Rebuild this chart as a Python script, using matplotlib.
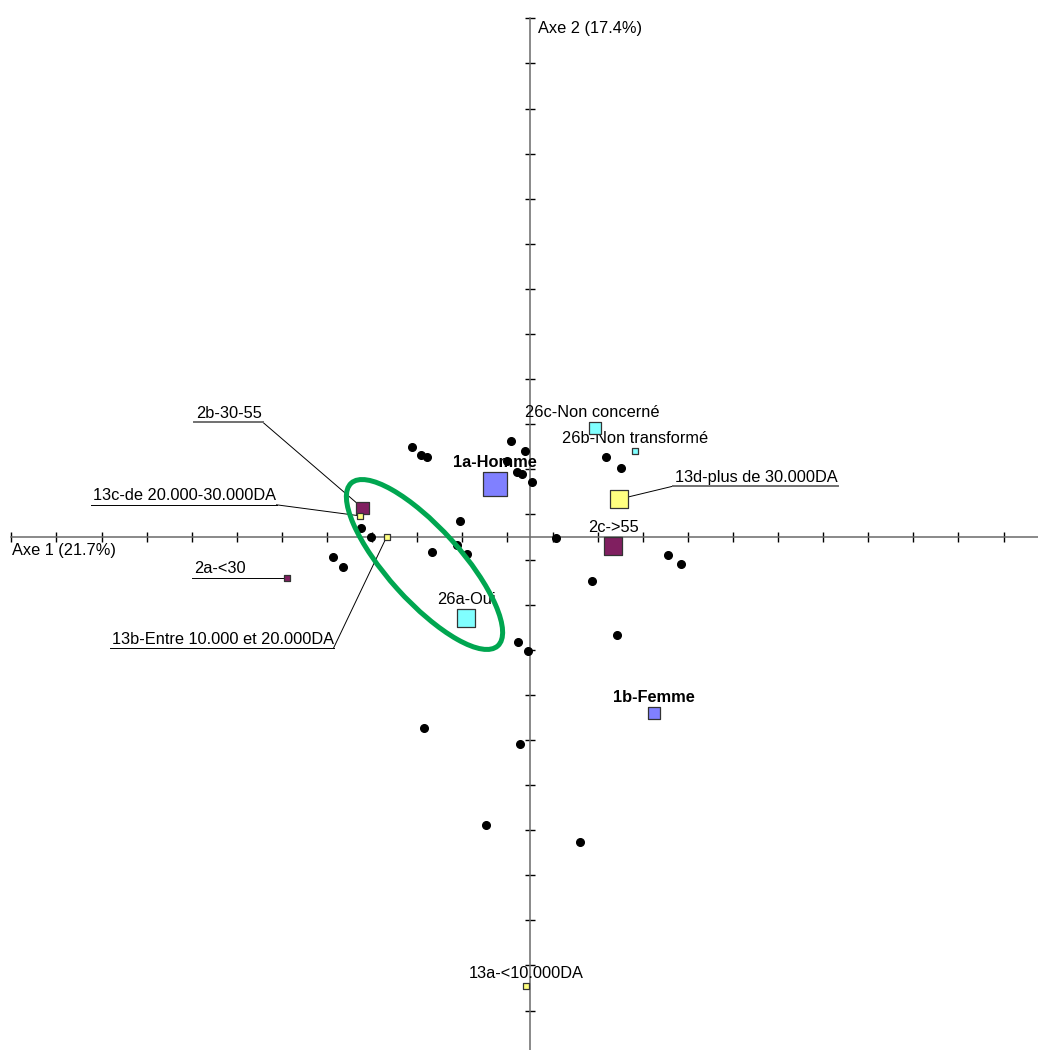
import numpy as np
import matplotlib.pyplot as plt
from matplotlib.patches import Ellipse

plt.rcParams['font.family'] = ['Liberation Sans', 'DejaVu Sans']

# one tick of the map = 45.1 px in the picture
PX = 1 / 45.1

# individuals (black dots), axis 1 / axis 2 coordinates
dots_x = [-2.62, -2.42, -2.28, -0.42, -0.11, -0.51, -0.29, -0.18, 0.04, -1.55,
          -3.75, -3.53, 0.58, -4.37, -4.15, -2.17, -1.62, -1.40, -0.27, -0.04,
          1.69, 2.02, 3.06, 3.35, 1.37, 1.93, -2.35, -0.22, -0.98, 1.11]
dots_y = [2.00, 1.82, 1.77, 2.13, 1.91, 1.69, 1.44, 1.40, 1.22, 0.35,
          0.20, 0.00, -0.02, -0.44, -0.67, -0.33, -0.18, -0.38, -2.33, -2.53,
          1.77, 1.53, -0.40, -0.60, -0.98, -2.17, -4.24, -4.59, -6.39, -6.76]

# active categories
cat_labels = ['1a-Homme', '1b-Femme',
              '2a-<30', '2b-30-55', '2c->55',
              '13a-<10.000DA', '13b-Entre 10.000 et 20.000DA',
              '13c-de 20.000-30.000DA', '13d-plus de 30.000DA',
              '26a-Oui', '26b-Non transformé', '26c-Non concerné']
cat_group = ['1', '1', '2', '2', '2', '13', '13', '13', '13', '26', '26', '26']
cat_x = [-0.78, 2.75, -5.38, -3.71, 1.85, -0.08, -3.18, -3.78, 1.98, -1.41, 2.32, 1.45]
cat_y = [1.17, -3.90, -0.90, 0.64, -0.20, -9.96, 0.00, 0.47, 0.84, -1.80, 1.90, 2.41]

# style
group_colors = {'1': '#8080FF', '2': '#801F60', '13': '#FFFF80', '26': '#80FFFF'}
marker_px = [24, 12, 6, 12.5, 18, 6, 6, 6, 18, 18, 6, 12]
bold = {'1a-Homme', '1b-Femme'}
# labels set on a leader line: (elbow dx, elbow dy, underline length, side) in px
leaders = {
    '2b-30-55': (-100, -86, 69, 'left'),
    '13c-de 20.000-30.000DA': (-83, -11, 186, 'left'),
    '2a-<30': (0, 0, 95, 'left'),
    '13b-Entre 10.000 et 20.000DA': (-53, 111, 224, 'left'),
    '13d-plus de 30.000DA': (54, -13, 165, 'right'),
}
gray_under = {'2b-30-55', '13d-plus de 30.000DA'}
label_dx = {'26c-Non concerné': -3}

FS = 11.8

fig = plt.figure(figsize=(10.38, 10.5), dpi=100)
ax = fig.add_axes([0, 0, 1, 1])
ax.set_xlim(-530 * PX, 508 * PX)
ax.set_ylim(-513 * PX, 537 * PX)

for s in ['top', 'right']:
    ax.spines[s].set_visible(False)
ax.spines['left'].set_position(('data', 0))
ax.spines['bottom'].set_position(('data', 0))
ax.spines['bottom'].set_bounds(-11.5, 508 * PX)
ax.spines['left'].set_bounds(-513 * PX, 11.5)
for s in ['left', 'bottom']:
    ax.spines[s].set_color('#6a6a6a')
    ax.spines[s].set_linewidth(1.1)
ax.set_xticks(np.arange(-11.5, 10.6, 1))
ax.set_yticks(np.arange(-10.5, 11.6, 1))
ax.tick_params(direction='inout', length=6.5, width=1, color='black',
               labelbottom=False, labelleft=False)

ax.text(-517.6 * PX, -6 * PX, 'Axe 1 (21.7%)', ha='left', va='top', fontsize=FS)
ax.text(8 * PX, 509 * PX, 'Axe 2 (17.4%)', ha='left', va='center', fontsize=FS)

# individuals
ax.plot(dots_x, dots_y, 'o', color='black', ms=5.5, zorder=4)

# categories
colors = [group_colors[g] for g in cat_group]
sizes = (np.array(marker_px) * 0.72) ** 2
ax.scatter(cat_x, cat_y, s=sizes, marker='s', c=colors,
           edgecolors='#333333', linewidths=0.9, zorder=5)

for lab, x, y, m in zip(cat_labels, cat_x, cat_y, marker_px):
    if lab in leaders:
        ox, oy, L, side = leaders[lab]
        ex, ey = x + ox * PX, y - oy * PX
        ex2 = ex - L * PX if side == 'left' else ex + L * PX
        ax.plot([x, ex], [y, ey], color='black', lw=0.7, zorder=3)
        if lab in gray_under:
            ax.plot([ex, ex2], [ey, ey], color='#707070', lw=1.4, zorder=3)
        else:
            ax.plot([ex, ex2], [ey, ey], color='black', lw=0.7, zorder=3)
        ax.text(min(ex, ex2) + 2 * PX, ey + 4.5 * PX, lab, ha='left',
                va='baseline', fontsize=FS, zorder=3)
    else:
        ax.annotate(lab, (x, y), xytext=(label_dx.get(lab, 0) * 0.72, (m / 2 + 5) * 0.72),
                    textcoords='offset points', ha='center', va='baseline',
                    fontsize=FS, fontweight='bold' if lab in bold else 'normal',
                    zorder=3)

# hand-drawn green ellipse
ell_center = (-105.5 * PX, -27.5 * PX)
ax.add_patch(Ellipse(ell_center, 219 * PX, 73 * PX, angle=-48, fill=False,
                     edgecolor='#00A650', lw=3.6, zorder=6))

fig.savefig('out.png', dpi=100)
